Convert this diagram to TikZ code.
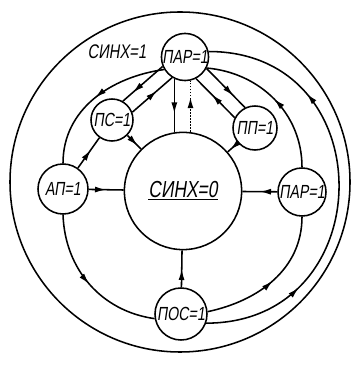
\documentclass[tikz,border=0pt]{standalone}
\usepackage{fontspec}
\newfontfamily\gostfont{Liberation Sans}[FakeStretch=0.75,FakeSlant=0.15]
\usetikzlibrary{arrows.meta,decorations.markings}
\tikzset{
    st/.style={circle,draw,line width=1.1pt,inner sep=0pt,font=\gostfont\fontsize{13.5}{13.5}\selectfont},
    arr/.style={postaction={decorate},decoration={markings,
        mark=at position #1 with {\arrow{Latex[length=2.8mm,width=1.5mm]}}}},
    arr/.default=0.5,
    arrtwo/.style 2 args={postaction={decorate},decoration={markings,
        mark=at position #1 with {\arrow{Latex[length=2.8mm,width=1.5mm]}},
        mark=at position #2 with {\arrow{Latex[length=2.8mm,width=1.5mm]}}}}
}
\begin{document}
\begin{tikzpicture}[x=0.025cm,y=0.025cm,line width=1.1pt]
    \useasboundingbox (0,0) rectangle (355,365);
    \draw (180,183) circle (170);
    % states
    \node[st,minimum size=2.93cm,font=\gostfont\fontsize{16.5}{16.5}\selectfont] (sync) at (183,174) {\underline{СИНХ=0}};
    \node[st,minimum size=1.15cm] (top) at (185,308) {ПАР=1};
    \node[st,minimum size=1.05cm] (ps) at (112,245) {ПС=1};
    \node[st,minimum size=1.1cm] (pp) at (255,237) {ПП=1};
    \node[st,minimum size=1.25cm] (ap) at (63,176) {АП=1};
    \node[st,minimum size=1.2cm] (par) at (302,173) {ПАР=1};
    \node[st,minimum size=1.3cm] (pos) at (181,51) {ПОС=1};
    \node[font=\gostfont\fontsize{14}{14}\selectfont] (lbl) at (117,313) {СИНХ=1};
    % ring
    \draw[arr] (top.211) to[out=188,in=90] (ap.north);
    \draw[arr] (ap.south) to[out=-88,in=172] (pos.190);
    \draw[arr] (pos.5) to[out=12,in=-90] (par.south);
    \draw[arr] (par.north) to[out=90,in=-5] (top.-27);
    \draw[arrtwo={0.24}{0.74}] (pos.-20) to[out=0,in=0,looseness=1.65] (top.13);
    % into СИНХ=0
    \draw[arr] (ap) -- (sync);
    \draw[arr] (par) -- (sync);
    \draw[arr] (pos) -- (sync);
    \draw[arr=0.6] (ap) -- (ps);
    \draw[arr=0.75] (ps) -- (sync);
    \draw[arr=0.75] (pp) -- (sync);
    % ПАР=1 and its neighbours
    \draw[arr=0.75] (top.203) -- (ps.60);
    \draw[arr=0.62] (ps.21) -- (top.238);
    \draw[arr=0.7] (top.-28) -- (pp.116);
    \draw[arr=0.59] (pp.153) -- (top.-63);
    \draw[arr=0.66] (top.244) -- (top.244 |- sync.north);
    \draw[arr=0.68,densely dotted] (top.283 |- sync.north) -- (top.283);
\end{tikzpicture}
\end{document}
